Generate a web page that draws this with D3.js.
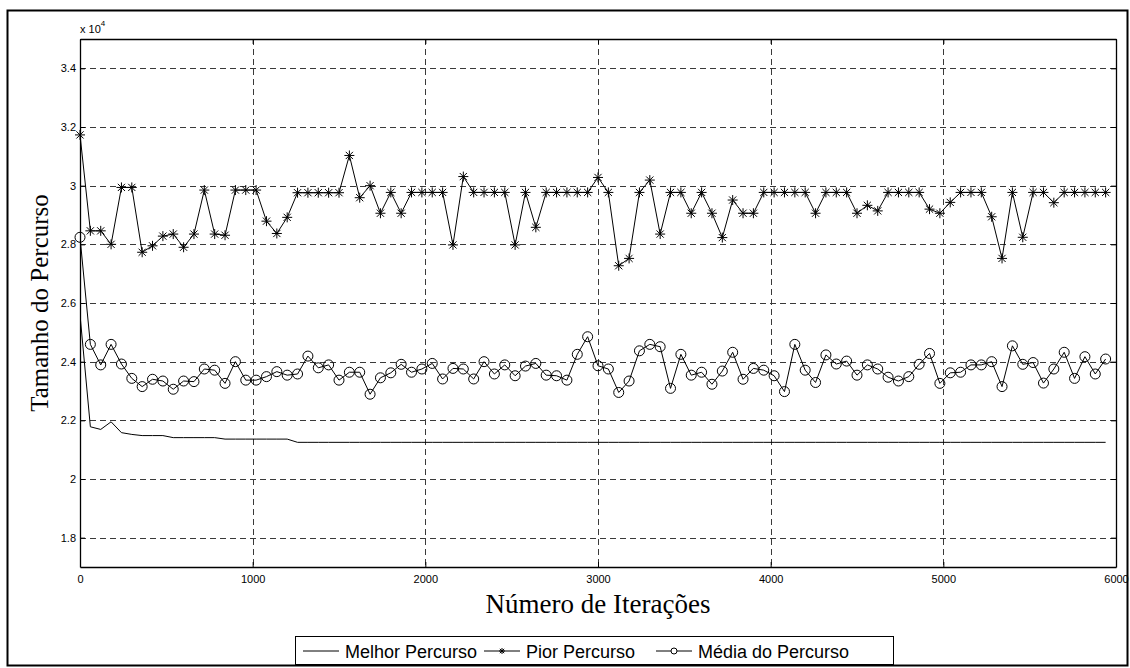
<!DOCTYPE html>
<html>
<head>
<meta charset="utf-8">
<script src="https://cdn.jsdelivr.net/npm/d3@7"></script>
<style>
  html, body { margin: 0; padding: 0; background: #fff; }
  svg { display: block; }
</style>
</head>
<body>
<svg id="chart" width="1130" height="668"></svg>
<script>
// Iteration numbers at which the colony was sampled
const iterations = [
  0, 60, 120, 180, 240, 300, 360, 420, 480, 540,
  600, 660, 720, 780, 840, 900, 960, 1020, 1080, 1140,
  1200, 1260, 1320, 1380, 1440, 1500, 1560, 1620, 1680, 1740,
  1800, 1860, 1920, 1980, 2040, 2100, 2160, 2220, 2280, 2340,
  2400, 2460, 2520, 2580, 2640, 2700, 2760, 2820, 2880, 2940,
  3000, 3060, 3120, 3180, 3240, 3300, 3360, 3420, 3480, 3540,
  3600, 3660, 3720, 3780, 3840, 3900, 3960, 4020, 4080, 4140,
  4200, 4260, 4320, 4380, 4440, 4500, 4560, 4620, 4680, 4740,
  4800, 4860, 4920, 4980, 5040, 5100, 5160, 5220, 5280, 5340,
  5400, 5460, 5520, 5580, 5640, 5700, 5760, 5820, 5880, 5940
];

// Best tour length found so far
const melhor = [
  25600, 21780, 21690, 21950, 21580, 21520, 21480, 21480, 21480, 21410,
  21410, 21410, 21410, 21410, 21360, 21360, 21360, 21360, 21360, 21360,
  21360, 21250, 21250, 21250, 21250, 21250, 21250, 21250, 21250, 21250,
  21250, 21250, 21250, 21250, 21250, 21250, 21250, 21250, 21250, 21250,
  21250, 21250, 21250, 21250, 21250, 21250, 21250, 21250, 21250, 21250,
  21250, 21250, 21250, 21250, 21250, 21250, 21250, 21250, 21250, 21250,
  21250, 21250, 21250, 21250, 21250, 21250, 21250, 21250, 21250, 21250,
  21250, 21250, 21250, 21250, 21250, 21250, 21250, 21250, 21250, 21250,
  21250, 21250, 21250, 21250, 21250, 21250, 21250, 21250, 21250, 21250,
  21250, 21250, 21250, 21250, 21250, 21250, 21250, 21250, 21250, 21250
];

// Worst tour of each iteration
const pior = [
  31730, 28460, 28460, 28000, 29940, 29940, 27730, 27950, 28280, 28350,
  27900, 28350, 29850, 28350, 28310, 29850, 29850, 29850, 28790, 28370,
  28920, 29760, 29760, 29760, 29760, 29760, 31030, 29590, 30000, 29060,
  29770, 29060, 29770, 29770, 29770, 29770, 27980, 30310, 29770, 29770,
  29770, 29770, 27980, 29770, 28580, 29770, 29770, 29770, 29770, 29770,
  30280, 29770, 27270, 27520, 29770, 30190, 28350, 29770, 29770, 29060,
  29770, 29060, 28230, 29510, 29060, 29060, 29770, 29770, 29770, 29770,
  29770, 29060, 29770, 29770, 29770, 29060, 29330, 29140, 29770, 29770,
  29770, 29770, 29200, 29060, 29430, 29770, 29770, 29770, 28940, 27520,
  29770, 28240, 29770, 29770, 29420, 29770, 29770, 29770, 29770, 29770
];

// Mean tour length of each iteration
const media = [
  28240, 24590, 23890, 24590, 23920, 23430, 23150, 23400, 23340, 23060,
  23340, 23320, 23750, 23710, 23260, 24000, 23370, 23370, 23490, 23660,
  23540, 23580, 24190, 23790, 23890, 23370, 23640, 23640, 22890, 23450,
  23620, 23910, 23640, 23750, 23940, 23410, 23770, 23750, 23410, 24000,
  23580, 23890, 23520, 23850, 23940, 23540, 23520, 23370, 24250, 24850,
  23860, 23750, 22950, 23340, 24370, 24590, 24510, 23090, 24250, 23540,
  23640, 23230, 23680, 24320, 23400, 23770, 23710, 23520, 22980, 24590,
  23710, 23290, 24230, 23920, 24020, 23540, 23890, 23750, 23470, 23340,
  23490, 23910, 24280, 23260, 23620, 23640, 23890, 23890, 24000, 23150,
  24540, 23910, 23970, 23270, 23750, 24320, 23430, 24170, 23580, 24090
];

const xTicks = [0, 1000, 2000, 3000, 4000, 5000, 6000];
const yTicks = [18000, 20000, 22000, 24000, 26000, 28000, 30000, 32000, 34000];
const legendLabels = ["Melhor Percurso", "Pior Percurso", "Média do Percurso"];

const SANS = "'Liberation Sans', Arial, Helvetica, sans-serif";
const SERIF = "'Liberation Serif', 'Times New Roman', serif";

const svg = d3.select("#chart");
const W = 1130, H = 668;
const plot = { left: 80, right: 1116, top: 39, bottom: 567 };

svg.append("rect").attr("width", W).attr("height", H).attr("fill", "#fff");

// Figure frame
svg.append("rect")
  .attr("x", 7.5).attr("y", 10.5)
  .attr("width", 1120).attr("height", 655)
  .attr("fill", "none").attr("stroke", "#000").attr("stroke-width", 2);

const x = d3.scaleLinear().domain([0, 6000]).range([plot.left, plot.right]);
const y = d3.scaleLinear().domain([17000, 35000]).range([plot.bottom, plot.top]);

// Dashed grid
const grid = svg.append("g").attr("stroke", "#3a3a3a").attr("stroke-width", 1)
  .attr("stroke-dasharray", "6,4").attr("fill", "none");
grid.selectAll(".gx").data(xTicks.slice(1, -1)).join("line")
  .attr("x1", d => Math.round(x(d)) + 0.5).attr("x2", d => Math.round(x(d)) + 0.5)
  .attr("y1", plot.top).attr("y2", plot.bottom);
grid.selectAll(".gy").data(yTicks).join("line")
  .attr("x1", plot.left).attr("x2", plot.right)
  .attr("y1", d => Math.round(y(d)) + 0.5).attr("y2", d => Math.round(y(d)) + 0.5);

// Axes with inward ticks on every side
const fmtY = d => String(+(d / 1e4).toFixed(1));
function styleAxis(g) {
  g.selectAll("path").attr("stroke", "#000").attr("stroke-width", 1.3);
  g.selectAll("line").attr("stroke", "#000");
  g.selectAll("text").attr("font-family", SANS).attr("font-size", 11).attr("fill", "#000");
}
svg.append("g").attr("transform", `translate(0,${plot.bottom})`)
  .call(d3.axisBottom(x).tickValues(xTicks).tickFormat(d3.format("d"))
    .tickSizeInner(-5).tickSizeOuter(0).tickPadding(8))
  .call(styleAxis);
svg.append("g").attr("transform", `translate(0,${plot.top})`)
  .call(d3.axisTop(x).tickValues(xTicks).tickFormat("")
    .tickSizeInner(-5).tickSizeOuter(0))
  .call(styleAxis);
svg.append("g").attr("transform", `translate(${plot.left},0)`)
  .call(d3.axisLeft(y).tickValues(yTicks).tickFormat(fmtY)
    .tickSizeInner(-5).tickSizeOuter(0).tickPadding(4))
  .call(styleAxis);
svg.append("g").attr("transform", `translate(${plot.right},0)`)
  .call(d3.axisRight(y).tickValues(yTicks).tickFormat("")
    .tickSizeInner(-5).tickSizeOuter(0))
  .call(styleAxis);

// Exponent label
const expo = svg.append("text").attr("x", plot.left).attr("y", 33)
  .attr("font-family", SANS).attr("font-size", 11).attr("fill", "#000");
expo.append("tspan").text("x 10");
expo.append("tspan").attr("font-size", 8).attr("dy", -7).text("4");

// Axis titles
svg.append("text").attr("x", (plot.left + plot.right) / 2).attr("y", 613)
  .attr("text-anchor", "middle").attr("font-family", SERIF).attr("font-size", 27)
  .attr("fill", "#000").text("Número de Iterações");
svg.append("text").attr("transform", `translate(48,${(plot.top + plot.bottom) / 2}) rotate(-90)`)
  .attr("text-anchor", "middle").attr("font-family", SERIF).attr("font-size", 25)
  .attr("fill", "#000").text("Tamanho do Percurso");

// Series lines (clipped to the axes box); markers are drawn unclipped
svg.append("clipPath").attr("id", "plotclip").append("rect")
  .attr("x", plot.left).attr("y", plot.top)
  .attr("width", plot.right - plot.left).attr("height", plot.bottom - plot.top);

const lineGen = vals => d3.line().x((d, i) => x(iterations[i])).y(d => y(d))(vals);
const series = svg.append("g").attr("clip-path", "url(#plotclip)");

series.append("path").attr("d", lineGen(melhor))
  .attr("fill", "none").attr("stroke", "#000").attr("stroke-width", 1);
series.append("path").attr("d", lineGen(pior))
  .attr("fill", "none").attr("stroke", "#000").attr("stroke-width", 1);
series.append("path").attr("d", lineGen(media))
  .attr("fill", "none").attr("stroke", "#000").attr("stroke-width", 1);

// Asterisk marker: plus with a cross through it
function asterisk(cx, cy, r) {
  const d = r * 0.72;
  return `M${cx - r},${cy}H${cx + r}M${cx},${cy - r}V${cy + r}` +
    `M${cx - d},${cy - d}L${cx + d},${cy + d}M${cx - d},${cy + d}L${cx + d},${cy - d}`;
}
const markers = svg.append("g");
markers.append("g").selectAll("path").data(pior).join("path")
  .attr("d", (d, i) => asterisk(x(iterations[i]), y(d), 5))
  .attr("fill", "none").attr("stroke", "#000").attr("stroke-width", 1);
markers.append("g").selectAll("circle").data(media).join("circle")
  .attr("cx", (d, i) => x(iterations[i])).attr("cy", d => y(d)).attr("r", 5)
  .attr("fill", "none").attr("stroke", "#000").attr("stroke-width", 1);

// Legend
const lg = svg.append("g");
lg.append("rect").attr("x", 295.5).attr("y", 636.5).attr("width", 598).attr("height", 28)
  .attr("fill", "#fff").attr("stroke", "#000").attr("stroke-width", 1);
const entries = [
  { x0: 303, tx: 345, marker: null },
  { x0: 484, tx: 526, marker: "star" },
  { x0: 656, tx: 698, marker: "circle" }
];
entries.forEach((e, i) => {
  const ly = 651;
  lg.append("line").attr("x1", e.x0).attr("x2", e.x0 + 36).attr("y1", ly).attr("y2", ly)
    .attr("stroke", "#000").attr("stroke-width", 1);
  const mx = e.x0 + 18;
  if (e.marker === "star") {
    lg.append("path").attr("d", asterisk(mx, ly, 3)).attr("stroke", "#000").attr("fill", "none");
  } else if (e.marker === "circle") {
    lg.append("circle").attr("cx", mx).attr("cy", ly).attr("r", 3)
      .attr("stroke", "#000").attr("fill", "#fff");
  }
  lg.append("text").attr("x", e.tx).attr("y", ly + 6.5)
    .attr("font-family", SANS).attr("font-size", 18).attr("fill", "#000")
    .text(legendLabels[i]);
});
</script>
</body>
</html>
